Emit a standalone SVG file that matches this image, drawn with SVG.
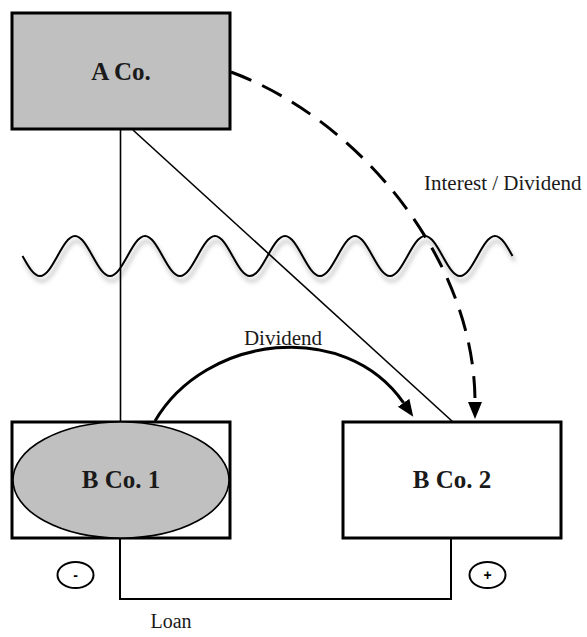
<svg xmlns="http://www.w3.org/2000/svg" width="587" height="637" viewBox="0 0 587 637">
<style>
.box{stroke:#000;stroke-width:3}
.lbl{font-family:"Liberation Serif","Times New Roman",serif;font-size:21px;fill:#1a1a1a}
.name{font-family:"Liberation Serif","Times New Roman",serif;font-size:25px;font-weight:bold;fill:#1a1a1a;text-anchor:middle}
.sign{font-family:"Liberation Sans",Arial,sans-serif;font-size:14px;font-weight:bold;text-anchor:middle}
.thin{fill:none;stroke:#000;stroke-width:1.6}
</style>
<defs>
<marker id="arr" markerUnits="userSpaceOnUse" markerWidth="20" markerHeight="16" refX="0" refY="7" orient="auto">
<path d="M0,0 L17,7 L0,14 Z" fill="#000"/>
</marker>
<filter id="sh" x="-5%" y="-50%" width="110%" height="200%">
<feGaussianBlur stdDeviation="2.2"/>
</filter>
</defs>
<g id="wave">
<path transform="translate(2,5)" filter="url(#sh)" fill="none" stroke="#c4c4c4" stroke-width="3" d="M22.5,256 c5.71,10.25 11.17,20 17.5,20 c6.33,0 11.79,-9.75 17.5,-20 c5.71,-10.25 11.17,-20 17.5,-20 c6.33,0 11.79,9.75 17.5,20 c5.71,10.25 11.17,20 17.5,20 c6.33,0 11.79,-9.75 17.5,-20 c5.71,-10.25 11.17,-20 17.5,-20 c6.33,0 11.79,9.75 17.5,20 c5.71,10.25 11.17,20 17.5,20 c6.33,0 11.79,-9.75 17.5,-20 c5.71,-10.25 11.17,-20 17.5,-20 c6.33,0 11.79,9.75 17.5,20 c5.71,10.25 11.17,20 17.5,20 c6.33,0 11.79,-9.75 17.5,-20 c5.71,-10.25 11.17,-20 17.5,-20 c6.33,0 11.79,9.75 17.5,20 c5.71,10.25 11.17,20 17.5,20 c6.33,0 11.79,-9.75 17.5,-20 c5.71,-10.25 11.17,-20 17.5,-20 c6.33,0 11.79,9.75 17.5,20 c5.71,10.25 11.17,20 17.5,20 c6.33,0 11.79,-9.75 17.5,-20 c5.71,-10.25 11.17,-20 17.5,-20 c6.33,0 11.79,9.75 17.5,20 c5.71,10.25 11.17,20 17.5,20 c6.33,0 11.79,-9.75 17.5,-20 c5.71,-10.25 11.17,-20 17.5,-20 c6.33,0 11.79,9.75 17.5,20"/>
<path fill="none" stroke="#000" stroke-width="2" d="M22.5,256 c5.71,10.25 11.17,20 17.5,20 c6.33,0 11.79,-9.75 17.5,-20 c5.71,-10.25 11.17,-20 17.5,-20 c6.33,0 11.79,9.75 17.5,20 c5.71,10.25 11.17,20 17.5,20 c6.33,0 11.79,-9.75 17.5,-20 c5.71,-10.25 11.17,-20 17.5,-20 c6.33,0 11.79,9.75 17.5,20 c5.71,10.25 11.17,20 17.5,20 c6.33,0 11.79,-9.75 17.5,-20 c5.71,-10.25 11.17,-20 17.5,-20 c6.33,0 11.79,9.75 17.5,20 c5.71,10.25 11.17,20 17.5,20 c6.33,0 11.79,-9.75 17.5,-20 c5.71,-10.25 11.17,-20 17.5,-20 c6.33,0 11.79,9.75 17.5,20 c5.71,10.25 11.17,20 17.5,20 c6.33,0 11.79,-9.75 17.5,-20 c5.71,-10.25 11.17,-20 17.5,-20 c6.33,0 11.79,9.75 17.5,20 c5.71,10.25 11.17,20 17.5,20 c6.33,0 11.79,-9.75 17.5,-20 c5.71,-10.25 11.17,-20 17.5,-20 c6.33,0 11.79,9.75 17.5,20 c5.71,10.25 11.17,20 17.5,20 c6.33,0 11.79,-9.75 17.5,-20 c5.71,-10.25 11.17,-20 17.5,-20 c6.33,0 11.79,9.75 17.5,20"/>
</g>
<g id="connectors">
<line class="thin" x1="120.5" y1="130" x2="120.5" y2="422"/>
<line class="thin" x1="133" y1="130" x2="453" y2="422"/>
<path d="M231,72 C360,120 475,260 475,402" fill="none" stroke="#000" stroke-width="3" stroke-dasharray="22 12" marker-end="url(#arr)"/>
<path d="M155,421 C205,335 345,318 403.6,402.8" fill="none" stroke="#000" stroke-width="3" marker-end="url(#arr)"/>
<path d="M120,539 V599 H451 V539" fill="none" stroke="#000" stroke-width="2"/>
<text class="lbl" x="424" y="190">Interest / Dividend</text>
<text class="lbl" x="283" y="345" text-anchor="middle">Dividend</text>
<text class="lbl" x="171" y="628" text-anchor="middle" style="font-size:20px">Loan</text>
</g>
<g id="a-co">
<rect class="box" x="12" y="13" width="218" height="116" fill="#c0c0c0"/>
<text class="name" x="121" y="80">A Co.</text>
</g>
<g id="b-co-1">
<rect class="box" x="12" y="422" width="218" height="116" fill="#fff"/>
<ellipse cx="121" cy="480" rx="108" ry="58" fill="#c0c0c0" stroke="#000" stroke-width="1.6"/>
<text class="name" x="121" y="488">B Co. 1</text>
</g>
<g id="b-co-2">
<rect class="box" x="343" y="422" width="218" height="116" fill="#fff"/>
<text class="name" x="452" y="488">B Co. 2</text>
</g>
<g id="minus">
<ellipse cx="75.5" cy="575" rx="18" ry="13" fill="#fff" stroke="#000" stroke-width="2"/>
<text class="sign" x="75.5" y="580">-</text>
</g>
<g id="plus">
<ellipse cx="487.5" cy="575" rx="18" ry="13" fill="#fff" stroke="#000" stroke-width="2"/>
<text class="sign" x="487.5" y="580">+</text>
</g>
</svg>
